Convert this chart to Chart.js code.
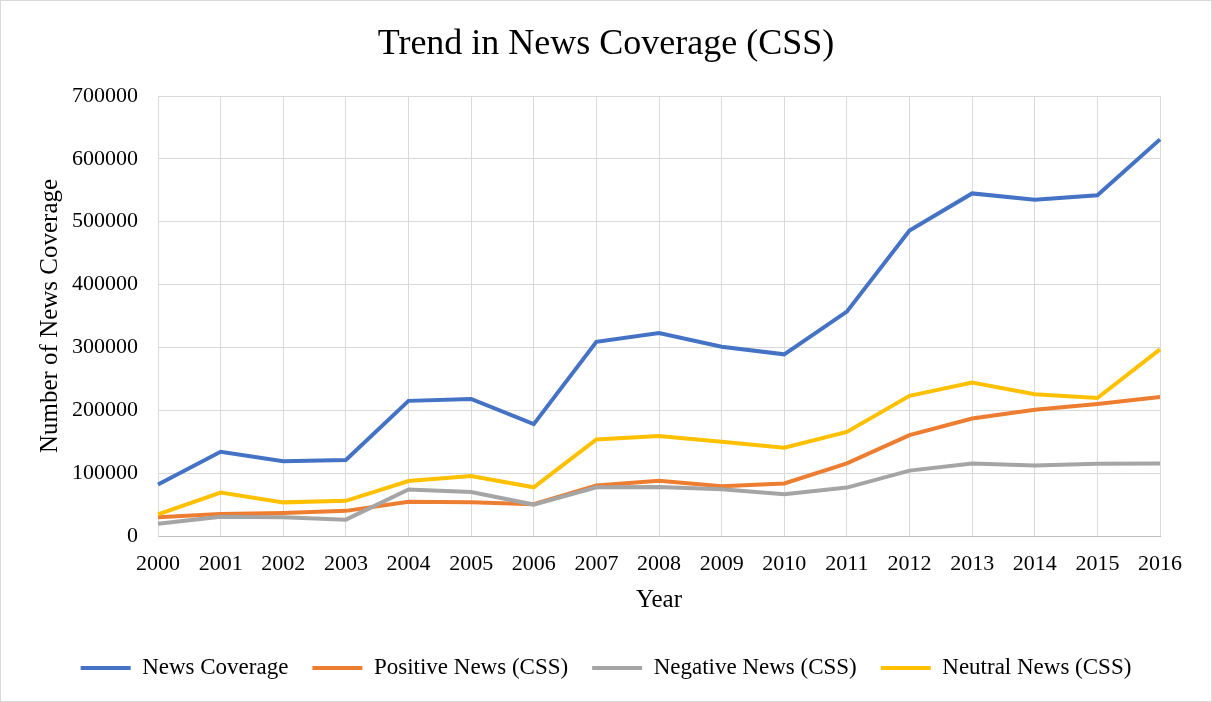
<!DOCTYPE html>
<html>
<head>
<meta charset="utf-8">
<script src="https://cdn.jsdelivr.net/npm/chart.js@4.4.0/dist/chart.umd.min.js"></script>
<style>
    body { margin: 0; background: #ffffff; }
    #graficoTendencia { display: block; }
</style>
</head>
<body>
<canvas id="graficoTendencia" width="1212" height="702"></canvas>
<script>
const anos = ["2000", "2001", "2002", "2003", "2004", "2005", "2006", "2007", "2008",
    "2009", "2010", "2011", "2012", "2013", "2014", "2015", "2016"];

const newsCoverage = [82000, 134000, 119000, 121000, 215000, 218000, 178000, 309000, 323000,
    301000, 289000, 357000, 486000, 545000, 535000, 542000, 631000];
const positiveNews = [30000, 35000, 36500, 40000, 54500, 53500, 50500, 80500, 88000,
    79000, 83500, 115500, 160500, 187000, 201000, 210000, 221000];
const negativeNews = [19500, 30500, 30000, 26000, 74000, 70000, 50000, 77500, 78000,
    74500, 66500, 77000, 104000, 115500, 112000, 115000, 115500];
const neutralNews = [34500, 69000, 53500, 56000, 87500, 95500, 77500, 153500, 159000,
    150000, 140500, 165500, 223000, 244000, 225500, 219500, 297000];

const fonte = "'Liberation Serif', 'Times New Roman', serif";

// fundo branco e moldura cinza, como no Excel
const moldura = {
    id: 'moldura',
    beforeDraw(chart) {
        const ctx = chart.ctx;
        ctx.save();
        ctx.fillStyle = '#ffffff';
        ctx.fillRect(0, 0, chart.width, chart.height);
        ctx.strokeStyle = '#d9d9d9';
        ctx.lineWidth = 1;
        ctx.strokeRect(0.5, 0.5, chart.width - 1, chart.height - 1);
        ctx.restore();
    }
};

// ordem: a última série fica por cima, como no Excel
function serie(label, data, cor, ordem) {
    return {
        label: label,
        data: data,
        borderColor: cor,
        backgroundColor: cor,
        borderWidth: 4,
        pointRadius: 0,
        pointStyle: 'line',
        tension: 0,
        fill: false,
        order: ordem
    };
}

const ctx = document.getElementById("graficoTendencia").getContext("2d");

new Chart(ctx, {
    type: 'line',
    data: {
        labels: anos,
        datasets: [
            serie('News Coverage', newsCoverage, '#4472C4', 3),
            serie('Positive News (CSS)', positiveNews, '#ED7D31', 2),
            serie('Negative News (CSS)', negativeNews, '#A5A5A5', 1),
            serie('Neutral News (CSS)', neutralNews, '#FFC000', 0)
        ]
    },
    plugins: [moldura],
    options: {
        responsive: false,
        animation: false,
        layout: {
            padding: { left: 0, right: 0, top: 0, bottom: 12.5 }
        },
        scales: {
            x: {
                offset: false,
                afterFit: function(scale) { scale.height = 96.5; },
                grid: { color: '#d9d9d9', lineWidth: 1, drawTicks: false, offset: false },
                border: { color: '#bfbfbf', width: 1 },
                ticks: {
                    color: '#000000',
                    padding: 15,
                    maxRotation: 0,
                    autoSkip: false,
                    font: { family: fonte, size: 22 }
                },
                title: {
                    display: true,
                    text: 'Year',
                    color: '#000000',
                    padding: { top: 0, bottom: 17.5 },
                    font: { family: fonte, size: 25 }
                }
            },
            y: {
                min: 0,
                max: 700000,
                afterFit: function(scale) { scale.width = 158; },
                grid: { color: '#d9d9d9', lineWidth: 1, drawTicks: false },
                border: { color: '#d9d9d9' },
                ticks: {
                    stepSize: 100000,
                    color: '#000000',
                    padding: 20,
                    font: { family: fonte, size: 22 },
                    callback: v => String(v)
                },
                title: {
                    display: true,
                    text: 'Number of News Coverage',
                    color: '#000000',
                    padding: { top: 35, bottom: 0 },
                    font: { family: fonte, size: 25 }
                }
            },
            // eixo vazio só para reservar a margem direita
            margemDireita: {
                position: 'right',
                afterFit: function(scale) { scale.width = 52; },
                grid: { display: false },
                border: { display: false },
                ticks: { display: false }
            }
        },
        plugins: {
            title: {
                display: true,
                text: 'Trend in News Coverage (CSS)',
                color: '#000000',
                padding: { top: 23.4, bottom: 29.4 },
                font: { family: fonte, size: 36, weight: 'normal' }
            },
            legend: {
                position: 'bottom',
                labels: {
                    color: '#000000',
                    usePointStyle: true,
                    pointStyleWidth: 50,
                    boxWidth: 50,
                    padding: 24,
                    font: { family: fonte, size: 23 },
                    sort: (a, b) => a.datasetIndex - b.datasetIndex
                }
            },
            tooltip: { enabled: false }
        }
    }
});
</script>
</body>
</html>
